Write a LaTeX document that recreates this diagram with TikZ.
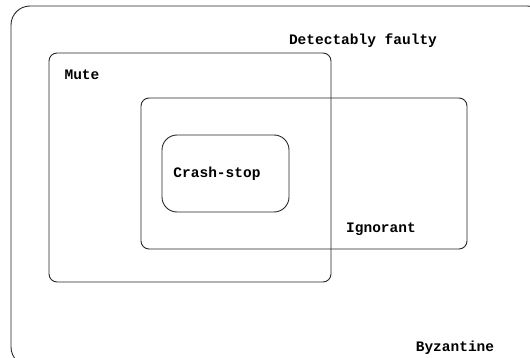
\documentclass[tikz,border=0pt]{standalone}
\usepackage{fontspec}
\setmonofont{Liberation Mono}
\begin{document}
\begin{tikzpicture}[x=1pt,y=-1pt,
  setbox/.style={draw=black!85,line width=0.9pt},
  lbl/.style={font=\ttfamily\bfseries\fontsize{14.5}{16}\selectfont,inner sep=0pt}]
\useasboundingbox (0,0) rectangle (530,358);
\clip (0,0) rectangle (530,358);
\draw[setbox,rounded corners=19pt] (11,6) rectangle (546,366);
\draw[setbox,rounded corners=8pt] (49,53) rectangle (331,282);
\draw[setbox,rounded corners=8pt] (141,98) rectangle (467,249);
\draw[setbox,rounded corners=15pt] (162,135) rectangle (289,212);
\node[lbl] (det) at (363,41) {Detectably faulty};
\node[lbl] (mute) at (82,75) {Mute};
\node[lbl] (crash) at (217,174) {Crash-stop};
\node[lbl] (ign) at (381,229) {Ignorant};
\node[lbl] (byz) at (455,348) {Byzantine};
\end{tikzpicture}
\end{document}
